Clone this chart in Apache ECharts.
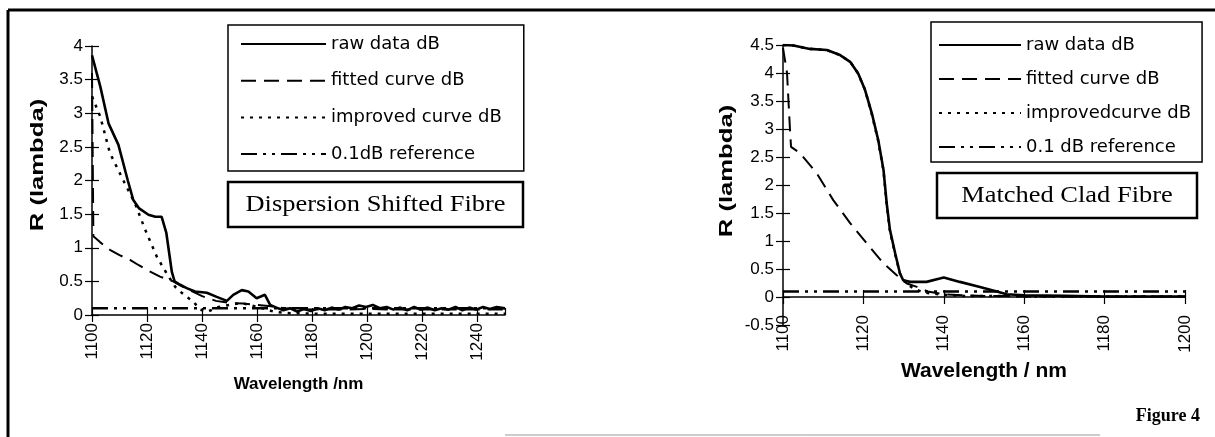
<!DOCTYPE html>
<html>
<head>
<meta charset="utf-8">
<script src="https://cdn.jsdelivr.net/npm/echarts@6/dist/echarts.min.js"></script>
<style>
html, body { margin: 0; padding: 0; background: #fff; }
#fig { width: 1215px; height: 437px; }
</style>
</head>
<body>
<div id="fig"></div>
<script>
// Dispersion Shifted Fibre (left panel)
var dsfRawX = [1100, 1103, 1106, 1109.6, 1113, 1115, 1117, 1120.5, 1123, 1125.3, 1127, 1129, 1130, 1132, 1134.4, 1137.4, 1141.7, 1145.3, 1149, 1151.3, 1154.4, 1156.8, 1159.8, 1162.8, 1164.7, 1167, 1169.5, 1172, 1174.5, 1177, 1179.5, 1182, 1184.5, 1187, 1189.5, 1192, 1194.5, 1197, 1199.5, 1202, 1204.5, 1207, 1209.5, 1212, 1214.5, 1217, 1219.5, 1222, 1224.5, 1227, 1229.5, 1232, 1234.5, 1237, 1239.5, 1242, 1244.5, 1247, 1250];
var dsfRaw = [3.86, 3.40, 2.85, 2.53, 2.0, 1.71, 1.59, 1.49, 1.46, 1.46, 1.22, 0.64, 0.50, 0.45, 0.40, 0.35, 0.33, 0.27, 0.21, 0.30, 0.37, 0.35, 0.25, 0.30, 0.15, 0.11, 0.07, 0.10, 0.05, 0.09, 0.06, 0.10, 0.07, 0.11, 0.08, 0.12, 0.10, 0.14, 0.12, 0.15, 0.10, 0.12, 0.08, 0.11, 0.07, 0.12, 0.08, 0.11, 0.07, 0.10, 0.08, 0.12, 0.07, 0.11, 0.08, 0.12, 0.09, 0.12, 0.10];
var dsfFitX = [1100, 1100.5, 1103, 1106.5, 1110, 1113.8, 1117, 1120, 1124.7, 1129.5, 1132, 1135, 1140, 1145, 1150, 1155, 1160, 1165, 1170, 1180, 1190, 1200, 1210, 1220, 1230, 1240, 1250];
var dsfFit = [3.6, 1.17, 1.08, 0.97, 0.89, 0.82, 0.74, 0.67, 0.57, 0.50, 0.44, 0.38, 0.28, 0.21, 0.18, 0.17, 0.15, 0.13, 0.10, 0.08, 0.08, 0.09, 0.08, 0.08, 0.08, 0.08, 0.08];
var dsfImpX = [1100, 1101, 1103, 1106.5, 1111.4, 1115.6, 1119.3, 1123.5, 1127.1, 1130.2, 1132, 1134.4, 1136.8, 1139.2, 1142, 1146, 1150, 1154, 1158, 1162, 1166, 1170, 1180, 1190, 1200, 1210, 1220, 1230, 1240, 1250];
var dsfImp = [3.25, 3.15, 2.95, 2.41, 2.0, 1.66, 1.27, 0.87, 0.62, 0.42, 0.35, 0.27, 0.20, 0.08, 0.05, 0.12, 0.15, 0.18, 0.14, 0.10, 0.05, 0.03, 0.02, 0.02, 0.02, 0.02, 0.02, 0.02, 0.02, 0.02];
var dsfRefX = [1100, 1250];
var dsfRef = [0.1, 0.1];

// Matched Clad Fibre (right panel)
var mcfRawX = [1100, 1100.5, 1102.6, 1106.7, 1110.9, 1114.2, 1116.7, 1118.7, 1120.4, 1122.1, 1123.7, 1125, 1125.8, 1126.6, 1127.9, 1129.1, 1129.9, 1131.6, 1135.7, 1139, 1140, 1144, 1149, 1153.2, 1155.6, 1160, 1170, 1180, 1190, 1200];
var mcfRaw = [4.5, 4.5, 4.49, 4.43, 4.41, 4.32, 4.20, 3.99, 3.70, 3.28, 2.80, 2.27, 1.67, 1.20, 0.78, 0.42, 0.30, 0.27, 0.27, 0.33, 0.35, 0.27, 0.18, 0.10, 0.05, 0.03, 0.02, 0.01, 0.01, 0.01];
var mcfFitX = [1100, 1101, 1101.7, 1102, 1104.2, 1108.4, 1112.5, 1116.7, 1120.8, 1125, 1128.3, 1130.8, 1133.3, 1136, 1140, 1145, 1150, 1155, 1160, 1170, 1180, 1190, 1200];
var mcfFit = [4.45, 4.0, 3.04, 2.68, 2.57, 2.21, 1.73, 1.32, 0.96, 0.60, 0.39, 0.24, 0.18, 0.10, 0.05, 0.03, 0.02, 0.02, 0.01, 0.01, 0.01, 0.01, 0.01];
var mcfImpX = [1100, 1102.6, 1106.7, 1110.9, 1114.2, 1116.7, 1118.7, 1120.4, 1122.1, 1123.7, 1125, 1125.8, 1126.6, 1127.9, 1129.1, 1130.5, 1132.5, 1135, 1140, 1145, 1150, 1155, 1160, 1170, 1180, 1190, 1200];
var mcfImp = [4.5, 4.49, 4.43, 4.41, 4.32, 4.2, 3.99, 3.7, 3.26, 2.78, 2.25, 1.65, 1.18, 0.76, 0.42, 0.25, 0.15, 0.08, 0.04, 0.02, 0.02, 0.02, 0.01, 0.01, 0.01, 0.01, 0.01];
var mcfRefX = [1100, 1200];
var mcfRef = [0.1, 0.1];

function pairs(xs, ys) {
    var out = [];
    for (var i = 0; i < xs.length; i++) out.push([xs[i], ys[i]]);
    return out;
}

var SANS = 'Liberation Sans, Arial, sans-serif';
var SERIF = 'Liberation Serif, Times New Roman, serif';

var solid = {color: '#000', width: 2.6, type: 'solid'};
var dashed = {color: '#000', width: 2, type: [15, 8]};
var dotted = {color: '#000', width: 2.5, type: [3, 6]};
var dashDot = {color: '#000', width: 2.5, type: [16, 6, 3, 6, 3, 6]};

function lineSeries(name, data, style, idx) {
    return {
        name: name,
        type: 'line',
        xAxisIndex: idx,
        yAxisIndex: idx,
        data: data,
        symbol: 'none',
        silent: true,
        itemStyle: {color: '#000'},
        lineStyle: style
    };
}

function xAxisFor(grid, min, max, margin, name, gap, nameSize) {
    return {
        type: 'value', gridIndex: grid, min: min, max: max, interval: 20,
        splitLine: {show: false},
        axisLine: {show: true, onZero: true, lineStyle: {color: '#000', width: 1.5}},
        axisTick: {show: true, length: 7, lineStyle: {color: '#000', width: 1.2}},
        axisLabel: {
            rotate: 90, margin: margin, color: '#000', fontFamily: SANS, fontSize: 17,
            showMaxLabel: max % 20 === 0,
            formatter: function (v) { return String(v); }
        },
        name: name, nameLocation: 'middle', nameGap: gap, nameMoveOverlap: false,
        nameTextStyle: {color: '#000', fontFamily: SANS, fontSize: nameSize, fontWeight: 'bold'}
    };
}
function xInner(grid, min, max) {
    return {
        type: 'value', gridIndex: grid, min: min, max: max, interval: 20, position: 'bottom',
        splitLine: {show: false}, axisLabel: {show: false},
        axisLine: {show: false, onZero: true},
        axisTick: {show: true, inside: true, length: 7, lineStyle: {color: '#000', width: 1.2}}
    };
}
function yAxisFor(grid, min, max) {
    return {
        type: 'value', gridIndex: grid, min: min, max: max, interval: 0.5, position: 'left',
        splitLine: {show: false},
        axisLine: {show: true, onZero: false, lineStyle: {color: '#000', width: 1.5}},
        axisTick: {show: true, length: 7, lineStyle: {color: '#000', width: 1.2}},
        axisLabel: {margin: 9, color: '#000', fontFamily: SANS, fontSize: 17}
    };
}
function yInner(grid, min, max) {
    return {
        type: 'value', gridIndex: grid, min: min, max: max, interval: 0.5, position: 'left',
        splitLine: {show: false}, axisLabel: {show: false},
        axisLine: {show: false, onZero: false},
        axisTick: {show: true, inside: true, length: 7, lineStyle: {color: '#000', width: 1.2}}
    };
}
// the scanned y titles are stretched along the text, so draw them as rotated text
function yTitle(x, y) {
    return {type: 'text', x: x, y: y, rotation: Math.PI / 2, scaleX: 1.35,
        style: {text: 'R (lambda)', font: 'bold 19px ' + SANS, fill: '#000', textAlign: 'center', textVerticalAlign: 'middle'}};
}

var chart = echarts.init(document.getElementById('fig'), null, {renderer: 'canvas'});

var legendText = {color: '#000', fontFamily: 'DejaVu Sans', fontSize: 18, lineHeight: 22};

var option = {
    backgroundColor: '#fff',
    animation: false,
    grid: [
        {left: 92, top: 46, right: 710, bottom: 122},
        {left: 783, top: 45, right: 30, bottom: 112}
    ],
    xAxis: [
        xAxisFor(0, 1100, 1250, 8, 'Wavelength /nm', 61, 17),
        xAxisFor(1, 1100, 1200, -10, 'Wavelength / nm', 36, 21),
        xInner(0, 1100, 1250),
        xInner(1, 1100, 1200)
    ],
    yAxis: [
        yAxisFor(0, 0, 4),
        yAxisFor(1, -0.5, 4.5),
        yInner(0, 0, 4),
        yInner(1, -0.5, 4.5)
    ],
    legend: [
        {
            orient: 'vertical', left: 228, top: 25,
            padding: [8, 22, 6, 12],
            itemWidth: 85, itemHeight: 14, itemGap: 14.7,
            borderColor: '#000', borderWidth: 1.5,
            selectedMode: false,
            itemStyle: {opacity: 0},
            textStyle: legendText,
            data: ['raw data dB', 'fitted curve dB', 'improved curve dB', '0.1dB reference']
        },
        {
            orient: 'vertical', left: 931, top: 22,
            padding: [12, 11, 4, 7],
            itemWidth: 82, itemHeight: 14, itemGap: 12,
            borderColor: '#000', borderWidth: 1.5,
            selectedMode: false,
            itemStyle: {opacity: 0},
            textStyle: legendText,
            data: ['raw data dB ', 'fitted curve dB ', 'improvedcurve dB', '0.1 dB reference']
        }
    ],
    series: [
        lineSeries('0.1dB reference', pairs(dsfRefX, dsfRef), dashDot, 0),
        lineSeries('improved curve dB', pairs(dsfImpX, dsfImp), dotted, 0),
        lineSeries('fitted curve dB', pairs(dsfFitX, dsfFit), dashed, 0),
        lineSeries('raw data dB', pairs(dsfRawX, dsfRaw), solid, 0),
        lineSeries('0.1 dB reference', pairs(mcfRefX, mcfRef), dashDot, 1),
        lineSeries('improvedcurve dB', pairs(mcfImpX, mcfImp), dotted, 1),
        lineSeries('fitted curve dB ', pairs(mcfFitX, mcfFit), dashed, 1),
        lineSeries('raw data dB ', pairs(mcfRawX, mcfRaw), solid, 1)
    ],
    graphic: [
        // page frame from the scanned figure
        {type: 'line', shape: {x1: 8, y1: 10, x2: 1215, y2: 10}, style: {stroke: '#000', lineWidth: 3}},
        {type: 'line', shape: {x1: 8, y1: 10, x2: 8, y2: 437}, style: {stroke: '#000', lineWidth: 3}},
        {type: 'line', shape: {x1: 505, y1: 435, x2: 1100, y2: 435}, style: {stroke: '#999', lineWidth: 1}},
        yTitle(38, 165),
        yTitle(727, 171),
        // panel captions
        {type: 'rect', shape: {x: 228, y: 182, width: 295, height: 45}, style: {fill: '#fff', stroke: '#000', lineWidth: 2.5}},
        {type: 'text', x: 375.5, y: 205, scaleX: 1.15,
            style: {text: 'Dispersion Shifted Fibre', font: '23px ' + SERIF, fill: '#000', textAlign: 'center', textVerticalAlign: 'middle'}},
        {type: 'rect', shape: {x: 937, y: 173, width: 260, height: 45}, style: {fill: '#fff', stroke: '#000', lineWidth: 2.5}},
        {type: 'text', x: 1067, y: 196, scaleX: 1.15,
            style: {text: 'Matched Clad Fibre', font: '23px ' + SERIF, fill: '#000', textAlign: 'center', textVerticalAlign: 'middle'}},
        {type: 'text', x: 1200, y: 416,
            style: {text: 'Figure 4', font: 'bold 18px ' + SERIF, fill: '#000', textAlign: 'right', textVerticalAlign: 'middle'}}
    ]
};

chart.setOption(option);
</script>
</body>
</html>
